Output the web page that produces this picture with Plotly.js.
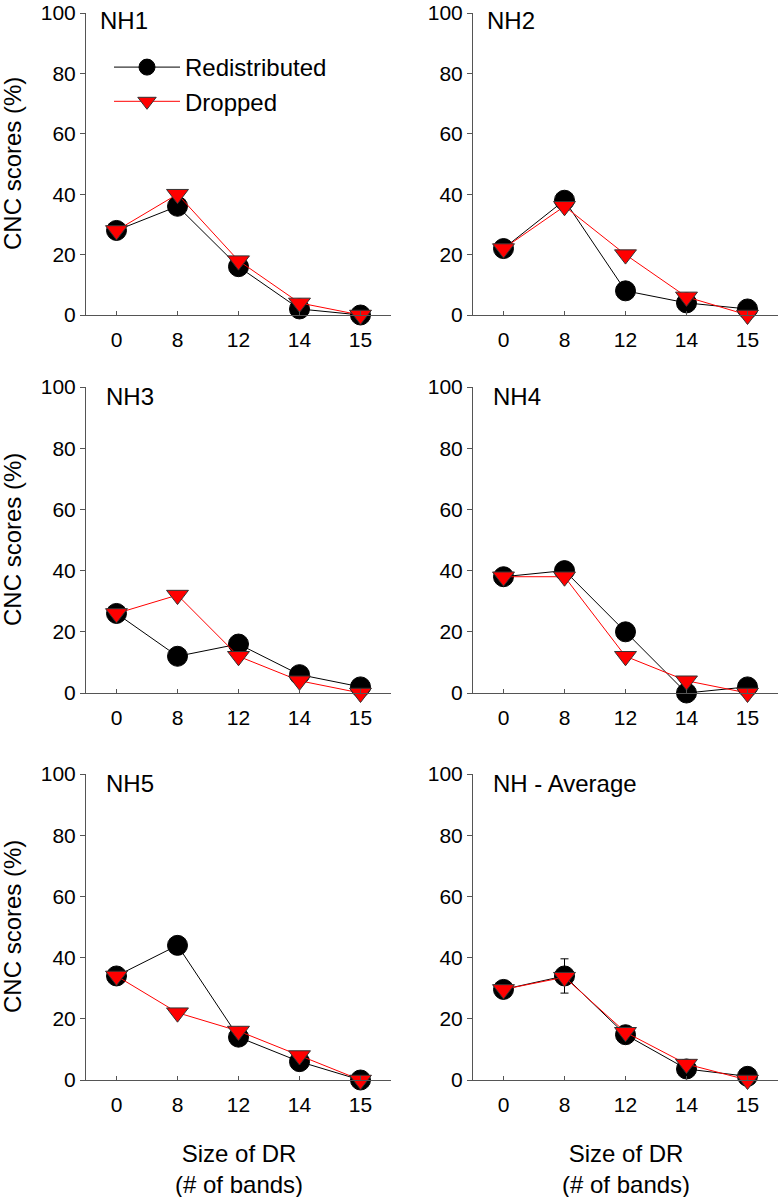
<!DOCTYPE html>
<html lang="en">
<head>
    <meta charset="UTF-8">
    <title>CNC scores by size of DR</title>
    <script src="https://cdn.plot.ly/plotly-3.0.1.min.js"></script>
    <style>
        body { margin: 0; background: #fff; }
    </style>
</head>
<body>
    <div id="graph" style="width:779px;height:1197px;"></div>
    <script>
        // categories on the x axis (size of DR, # of bands)
        var drSizes = ['0', '8', '12', '14', '15'];
        var panelNames = ['NH1', 'NH2', 'NH3', 'NH4', 'NH5', 'NH - Average'];

        // CNC scores (%)
        var redistNH1 = [28, 36, 16, 2, 0];
        var droppedNH1 = [28, 40, 18, 4, 0];
        var redistNH2 = [22, 38, 8, 4, 2];
        var droppedNH2 = [22, 36, 20, 6, 0];
        var redistNH3 = [26, 12, 16, 6, 2];
        var droppedNH3 = [26, 32, 12, 4, 0];
        var redistNH4 = [38, 40, 20, 0, 2];
        var droppedNH4 = [38, 38, 12, 4, 0];
        var redistNH5 = [34, 44, 14, 6, 0];
        var droppedNH5 = [34, 22, 16, 8, 0];
        var redistAvg = [29.6, 34, 14.8, 3.6, 1.2];
        var droppedAvg = [29.6, 33.6, 15.6, 5.2, 0];
        var redistAvgErr = [2.8, 5.6, 2, 1.2, 0.5];

        var redist = [redistNH1, redistNH2, redistNH3, redistNH4, redistNH5, redistAvg];
        var dropped = [droppedNH1, droppedNH2, droppedNH3, droppedNH4, droppedNH5, droppedAvg];

        var W = 779, H = 1197;
        var colsPx = [[86, 391], [473, 778]];
        var rowsPx = [[13, 315], [387, 693], [774, 1080]];
        var font = 'Liberation Sans, Arial, sans-serif';
        var axisColor = '#555555';
        var tickFont = {family: font, size: 21, color: '#000'};
        var textFont = {family: font, size: 24, color: '#000'};

        var traces = [];
        var layout = {
            width: W,
            height: H,
            margin: {l: 0, r: 0, t: 0, b: 0},
            paper_bgcolor: '#fff',
            plot_bgcolor: 'rgba(0,0,0,0)',
            font: textFont,
            showlegend: true,
            legend: {
                x: 109 / W, y: 1 - 45 / H,
                xanchor: 'left', yanchor: 'top',
                bgcolor: 'rgba(0,0,0,0)',
                font: textFont,
                itemwidth: 66,
                tracegroupgap: 0
            },
            annotations: []
        };

        for (var p = 0; p < 6; p++) {
            var col = p % 2, row = Math.floor(p / 2);
            var n = p + 1;
            var xa = 'x' + (n === 1 ? '' : n), ya = 'y' + (n === 1 ? '' : n);
            var cx = colsPx[col], ry = rowsPx[row];

            layout['xaxis' + (n === 1 ? '' : n)] = {
                domain: [cx[0] / W, cx[1] / W],
                anchor: ya,
                range: [-0.5, 4.5],
                tickvals: [0, 1, 2, 3, 4],
                ticktext: drSizes,
                showline: true, linecolor: axisColor, linewidth: 1,
                ticks: 'inside', ticklen: 4, tickcolor: axisColor,
                ticklabelstandoff: 6,
                showgrid: false, zeroline: false,
                tickfont: tickFont,
                fixedrange: true
            };
            layout['yaxis' + (n === 1 ? '' : n)] = {
                domain: [1 - ry[1] / H, 1 - ry[0] / H],
                anchor: xa,
                range: [0, 100],
                tickvals: [0, 20, 40, 60, 80, 100],
                showline: true, linecolor: axisColor, linewidth: 1,
                ticks: 'outside', ticklen: 5, tickcolor: axisColor,
                ticklabeloverflow: 'allow',
                showgrid: false, zeroline: false,
                tickfont: tickFont,
                fixedrange: true
            };

            var xs = [0, 1, 2, 3, 4];
            var redTrace = {
                x: xs, y: redist[p], xaxis: xa, yaxis: ya,
                type: 'scatter', mode: 'lines+markers',
                name: 'Redistributed', legendgroup: 'r', showlegend: p === 0,
                line: {color: '#000', width: 1},
                marker: {symbol: 'circle', size: 20, color: '#000', line: {color: '#000', width: 1}},
                cliponaxis: false
            };
            if (p === 5) {
                redTrace.error_y = {type: 'data', array: redistAvgErr, visible: true,
                    color: '#000', thickness: 1, width: 4};
            }
            traces.push(redTrace);
            traces.push({
                x: xs, y: dropped[p], xaxis: xa, yaxis: ya,
                type: 'scatter', mode: 'lines+markers',
                name: 'Dropped', legendgroup: 'd', showlegend: p === 0,
                line: {color: '#ff0000', width: 1},
                marker: {symbol: 'triangle-down', size: 19, color: '#ff0000', line: {color: '#333', width: 1}},
                cliponaxis: false
            });

            // panel label
            layout.annotations.push({
                xref: 'paper', yref: 'paper',
                x: (cx[0] + (row === 0 ? 12 : 18)) / W, y: 1 - (ry[0] + (row === 0 ? 7 : 9)) / H,
                xanchor: 'left', yanchor: 'middle',
                text: panelNames[p], showarrow: false,
                font: textFont
            });

            // y title on left column
            if (col === 0) {
                layout.annotations.push({
                    xref: 'paper', yref: 'paper',
                    x: 12 / W, y: 1 - (ry[0] + ry[1]) / 2 / H,
                    xanchor: 'center', yanchor: 'middle', textangle: -90,
                    text: 'CNC scores (%)', showarrow: false,
                    font: textFont
                });
            }
            // x title under bottom row
            if (row === 2) {
                layout.annotations.push({
                    xref: 'paper', yref: 'paper',
                    x: (cx[0] + cx[1]) / 2 / W, y: 1 - 1169 / H,
                    xanchor: 'center', yanchor: 'middle',
                    text: 'Size of DR<br>(# of bands)', showarrow: false,
                    font: textFont
                });
            }
        }

        Plotly.newPlot('graph', traces, layout, {displayModeBar: false, staticPlot: true});
    </script>
</body>
</html>
